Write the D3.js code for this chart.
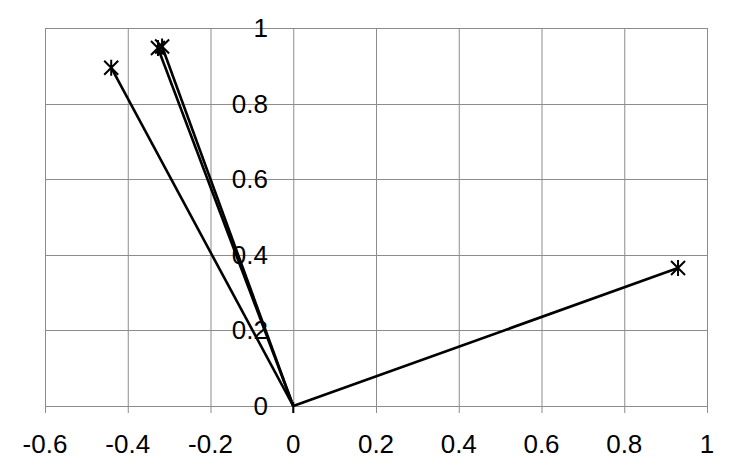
<!DOCTYPE html>
<html>
<head>
<meta charset="utf-8">
<script src="https://cdn.jsdelivr.net/npm/d3@7"></script>
<style>
  body { margin: 0; background: white; }
  text { font-family: "Liberation Sans Narrow", "Liberation Sans", sans-serif; }
</style>
</head>
<body>
<div id="chart"></div>
<script>
// vector end points (each drawn from the origin)
var xValues = [0.93, -0.44, -0.327, -0.317];
var yValues = [0.365, 0.895, 0.947, 0.951];
var xTicks = [-0.6, -0.4, -0.2, 0, 0.2, 0.4, 0.6, 0.8, 1];
var yTicks = [0, 0.2, 0.4, 0.6, 0.8, 1];

var width = 737, height = 474;
var svg = d3.select("#chart").append("svg").attr("width", width).attr("height", height);

var x = d3.scaleLinear().domain([-0.6, 1]).range([45, 707]);
var y = d3.scaleLinear().domain([0, 1]).range([406, 28]);

//grid lines
svg.append("g").selectAll("line").data(xTicks).enter().append("line")
    .attr("x1", d => x(d) + 0.5).attr("x2", d => x(d) + 0.5)
    .attr("y1", y(1)).attr("y2", y(0) + 7)
    .attr("stroke", "#8c8c8c").attr("stroke-width", 1);
svg.append("g").selectAll("line").data(yTicks).enter().append("line")
    .attr("x1", x(-0.6)).attr("x2", x(1) + 1)
    .attr("y1", d => Math.round(y(d)) + 0.5).attr("y2", d => Math.round(y(d)) + 0.5)
    .attr("stroke", "#8c8c8c").attr("stroke-width", 1);

//tick labels
svg.append("g").selectAll("text").data(xTicks).enter().append("text")
    .attr("x", d => x(d)).attr("y", 453)
    .attr("text-anchor", "middle").attr("font-size", "26px").attr("fill", "black")
    .text(d => d);
svg.append("g").selectAll("text").data(yTicks).enter().append("text")
    .attr("x", 268).attr("y", d => y(d) + 9)
    .attr("text-anchor", "end").attr("font-size", "26px").attr("fill", "black")
    .text(d => d);

//vectors
var pts = xValues.map((v, i) => ({x: v, y: yValues[i]}));
svg.append("g").selectAll("line").data(pts).enter().append("line")
    .attr("x1", x(0)).attr("y1", y(0))
    .attr("x2", d => x(d.x)).attr("y2", d => y(d.y))
    .attr("stroke", "black").attr("stroke-width", 2.6);

//star markers at the ends
function star(g, cx, cy, r) {
    g.append("path")
        .attr("d", "M" + (cx - r) + "," + (cy - r) + "L" + (cx + r) + "," + (cy + r) +
                   "M" + (cx - r) + "," + (cy + r) + "L" + (cx + r) + "," + (cy - r) +
                   "M" + cx + "," + (cy - r - 1) + "L" + cx + "," + (cy + r + 1))
        .attr("stroke", "black").attr("stroke-width", 2).attr("fill", "none");
}
var mk = svg.append("g");
pts.forEach(d => star(mk, x(d.x), y(d.y), 7));
//origin marker
mk.append("line").attr("x1", x(0)).attr("x2", x(0)).attr("y1", y(0) - 4).attr("y2", y(0) + 7)
    .attr("stroke", "black").attr("stroke-width", 2);
</script>
</body>
</html>
